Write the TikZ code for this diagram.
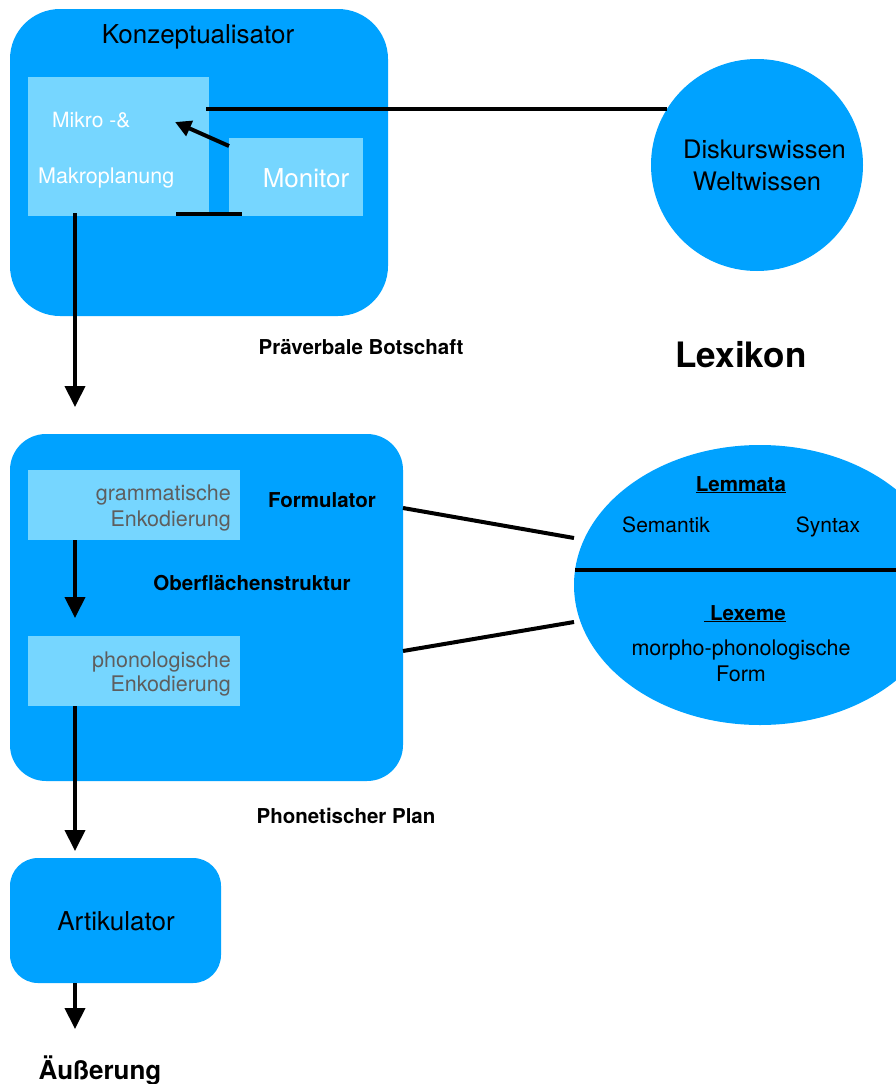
\documentclass[tikz,border=0pt]{standalone}
\usepackage{fontspec}
\setmainfont{TeX Gyre Heros}
\usetikzlibrary{arrows.meta,shapes.geometric}
\definecolor{kblue}{HTML}{00A2FF}
\definecolor{klight}{HTML}{76D6FF}
\definecolor{kgray}{HTML}{5E5E5E}
\begin{document}
\begin{tikzpicture}[x=1pt,y=-1pt,
  bigbox/.style={fill=kblue, draw=none, rounded corners=#1, inner sep=0pt},
  lightbox/.style={fill=klight, draw=none, inner sep=0pt},
  lbl/.style={inner sep=0pt, anchor=base},
  conn/.style={line width=4pt},
  arr/.style={line width=4pt, -{Triangle[width=20pt,length=21pt]}},
  smallarr/.style={line width=4pt, -{Triangle[width=16pt,length=16pt]}}]
\useasboundingbox (0,0) rectangle (896,1084);

% Konzeptualisator
\node[bigbox=50pt, minimum width=378pt, minimum height=307pt] (konz) at (199,162.5) {};
\node[lbl, font=\fontsize{26}{30}\selectfont] (konzlbl) at (198,43) {Konzeptualisator};
\node[lightbox, minimum width=181pt, minimum height=139pt] (mikro) at (118.5,146.5) {};
\node[lightbox, minimum width=134pt, minimum height=78pt] (monitor) at (296,177) {};
\node[lbl, anchor=base west, text=white, font=\fontsize{21}{25}\selectfont] (mikro1) at (52,127) {Mikro -\&};
\node[lbl, anchor=base west, text=white, font=\fontsize{21.5}{25}\selectfont] (mikro2) at (38,183) {Makroplanung};
\node[lbl, text=white, font=\fontsize{26}{30}\selectfont] (monlbl) at (306,187) {Monitor};

% Diskurswissen circle
\node[circle, fill=kblue, draw=none, minimum size=212pt, inner sep=0pt] (wissen) at (757,165) {};
\node[lbl, font=\fontsize{25.5}{30}\selectfont] (w1) at (764.5,158) {Diskurswissen};
\node[lbl, font=\fontsize{25.5}{30}\selectfont] (w2) at (757,190) {Weltwissen};

\coordinate (wstart) at (206,109);
\draw[conn] (wstart) -- (wstart -| wissen.148);
\coordinate (monfrom) at (229,146);
\coordinate (monto) at (175,122);
\draw[smallarr] (monfrom) -- (monto);
\coordinate (bar1) at (176,214);
\coordinate (bar2) at (242,214);
\draw[conn] (bar1) -- (bar2);

\coordinate (a1s) at (75,213);
\coordinate (a1e) at (75,407);
\draw[arr] (a1s) -- (a1e);

\node[lbl, font=\bfseries\fontsize{20.5}{24}\selectfont] (prae) at (361,354) {Präverbale Botschaft};
\node[lbl, font=\bfseries\fontsize{35}{40}\selectfont] (lexikon) at (741,367) {Lexikon};

% Formulator
\node[bigbox=36pt, minimum width=393pt, minimum height=347pt] (form) at (206.5,607.5) {};
\node[lightbox, minimum width=212pt, minimum height=70pt] (gram) at (134,505) {};
\node[lightbox, minimum width=212pt, minimum height=70pt] (phon) at (134,671) {};
\node[lbl, anchor=base east, text=kgray, font=\fontsize{21.5}{25}\selectfont] (g1) at (231,500) {grammatische};
\node[lbl, anchor=base east, text=kgray, font=\fontsize{21.5}{25}\selectfont] (g2) at (231,526) {Enkodierung};
\node[lbl, anchor=base east, text=kgray, font=\fontsize{21.5}{25}\selectfont] (p1) at (231,667) {phonologische};
\node[lbl, anchor=base east, text=kgray, font=\fontsize{21.5}{25}\selectfont] (p2) at (231,691) {Enkodierung};
\node[lbl, font=\bfseries\fontsize{20.5}{24}\selectfont] (formlbl) at (322,507) {Formulator};
\node[lbl, font=\bfseries\fontsize{20.5}{24}\selectfont] (ober) at (252,590) {Oberflächenstruktur};

\coordinate (a2s) at (75,540);
\coordinate (a2e) at (75,618);
\draw[arr] (a2s) -- (a2e);
\coordinate (a3s) at (75,706);
\coordinate (a3e) at (75,851);
\draw[arr] (a3s) -- (a3e);

\node[lbl, font=\bfseries\fontsize{20.5}{24}\selectfont] (phonplan) at (346,823) {Phonetischer Plan};

% Lexikon ellipse
\node[ellipse, fill=kblue, draw=none, minimum width=372pt, minimum height=280pt, inner sep=0pt] (lex) at (760,585) {};
\coordinate (div1) at (575,570);
\coordinate (div2) at (900,570);
\draw[conn] (div1) -- (div2);
\coordinate (l1s) at (403,508);
\coordinate (l1e) at (574,538);
\draw[conn] (l1s) -- (l1e);
\coordinate (l2s) at (403,651);
\coordinate (l2e) at (574,622);
\draw[conn] (l2s) -- (l2e);

\node[lbl, font=\bfseries\fontsize{20.5}{24}\selectfont] (lemma) at (741,491) {\underline{Lemmata}};
\node[lbl, font=\fontsize{21}{25}\selectfont] (sem) at (666,532) {Semantik};
\node[lbl, font=\fontsize{21}{25}\selectfont] (syn) at (828,532) {Syntax};
\node[lbl, font=\bfseries\fontsize{20.5}{24}\selectfont] (lexeme) at (745,620) {\underline{\ Lexeme}};
\node[lbl, font=\fontsize{21.5}{25}\selectfont] (morph) at (741,655) {morpho-phonologische};
\node[lbl, font=\fontsize{21.5}{25}\selectfont] (formw) at (741,681) {Form};

% Artikulator
\node[bigbox=28pt, minimum width=211pt, minimum height=125pt] (artik) at (115.5,920.5) {};
\node[lbl, font=\fontsize{26}{30}\selectfont] (artlbl) at (116,930) {Artikulator};
\coordinate (a4s) at (75,983);
\coordinate (a4e) at (75,1029);
\draw[arr] (a4s) -- (a4e);
\node[lbl, font=\bfseries\fontsize{26}{30}\selectfont] (aeuss) at (100,1079) {Äußerung};
\end{tikzpicture}
\end{document}
